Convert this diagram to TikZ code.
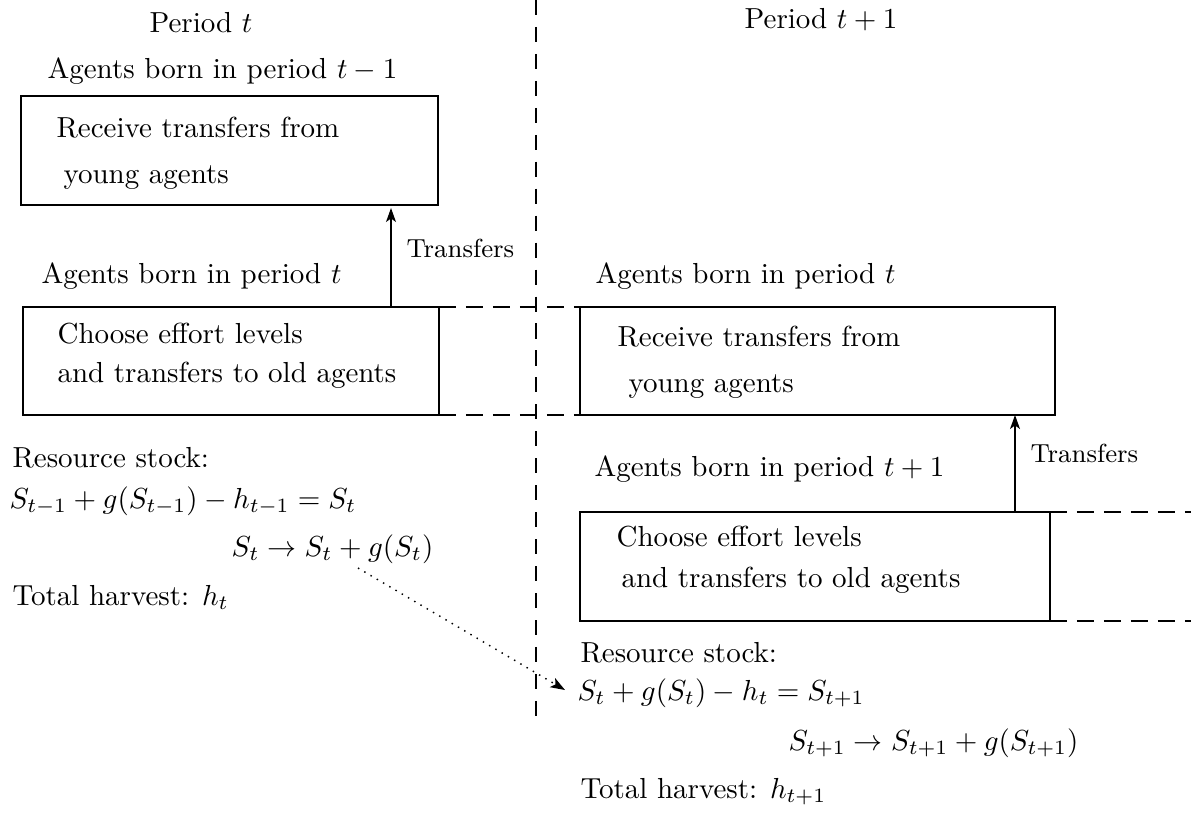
\documentclass[tikz,border=0pt]{standalone}
\usetikzlibrary{arrows.meta}
\begin{document}
\begin{tikzpicture}[x=0.345pt,y=-0.345pt,
  box/.style={draw,line width=0.6pt},
  txt/.style={inner sep=0pt,anchor=base west},
  ctxt/.style={inner sep=0pt,anchor=base},
  vdash/.style={line width=0.6pt,dash pattern=on 5.2pt off 4.1pt},
  hdash/.style={line width=0.6pt,dash pattern=on 5.8pt off 3.5pt},
  arr/.style={line width=0.6pt,-{Stealth[length=4.8pt,width=3.4pt,inset=1.2pt]}},
  lab/.style={inner sep=0pt,anchor=base west,font=\small}]
\useasboundingbox (0,0) rectangle (1191,813);
% period headings
\node[ctxt] (pt) at (201,32) {Period $t$};
\node[ctxt] (pt1) at (821,28) {Period $t+1$};
\coordinate (vtop) at (536,0);
\coordinate (vbot) at (536,726);
\draw[vdash] (vtop) -- (vbot);
% left column
\node[txt] (bornA) at (47,78) {Agents born in period $t-1$};
\draw[box] (21,96) rectangle (438,205);
\node[txt] (r1a) at (56,137) {Receive transfers from};
\node[txt] (r1b) at (63,183) {young agents};
\node[txt] (bornB) at (41,283) {Agents born in period $t$};
\draw[box] (23,307) rectangle (439,415);
\coordinate (b2ne) at (439,307);
\coordinate (b2se) at (439,415);
\coordinate (a1s) at (391,307);
\coordinate (a1e) at (391,208);
\draw[arr] (a1s) -- (a1e);
\node[lab] (tr1) at (406,257) {Transfers};
\node[txt] (c1a) at (57,343) {Choose effort levels};
\node[txt] (c1b) at (57,382) {and transfers to old agents};
\node[txt] (rs1) at (12,467) {Resource stock:};
\node[txt] (eq1) at (9,508) {$S_{t-1}+g(S_{t-1})-h_{t-1}=S_t$};
\node[txt] (ev1) at (231,556) {$S_t\rightarrow S_t+g(S_t)$};
\node[txt] (th1) at (12,605) {Total harvest: $h_t$};
% right column
\node[txt] (bornC) at (595,283) {Agents born in period $t$};
\draw[box] (580,307) rectangle (1055,415);
\coordinate (b3nw) at (580,307);
\coordinate (b3sw) at (580,415);
\node[txt] (r2a) at (617,346) {Receive transfers from};
\node[txt] (r2b) at (628,392) {young agents};
\node[txt] (bornD) at (594,476) {Agents born in period $t+1$};
\draw[box] (580,512) rectangle (1050,621);
\coordinate (b4ne) at (1050,512);
\coordinate (b4se) at (1050,621);
\coordinate (a2s) at (1015,512);
\coordinate (a2e) at (1015,415);
\draw[arr] (a2s) -- (a2e);
\node[lab] (tr2) at (1030,462) {Transfers};
\node[txt] (c2a) at (616,546) {Choose effort levels};
\node[txt] (c2b) at (621,587) {and transfers to old agents};
\node[txt] (rs2) at (580,662) {Resource stock:};
\node[txt] (eq2) at (577,700) {$S_t+g(S_t)-h_t=S_{t+1}$};
\node[txt] (ev2) at (788,750) {$S_{t+1}\rightarrow S_{t+1}+g(S_{t+1})$};
\node[txt] (th2) at (580,798) {Total harvest: $h_{t+1}$};
% dashed continuations
\coordinate (e1) at (1191,512);
\coordinate (e2) at (1191,621);
\draw[hdash] (b2ne) -- (b3nw);
\draw[hdash] (b2se) -- (b3sw);
\draw[hdash] (b4ne) -- (e1);
\draw[hdash] (b4se) -- (e2);
% dotted arrow
\coordinate (ds) at (358,568);
\coordinate (de) at (565,690);
\draw[line width=0.5pt,dotted,-{Stealth[length=5pt,width=3.6pt,inset=1.2pt]}] (ds) -- (de);
\end{tikzpicture}
\end{document}
